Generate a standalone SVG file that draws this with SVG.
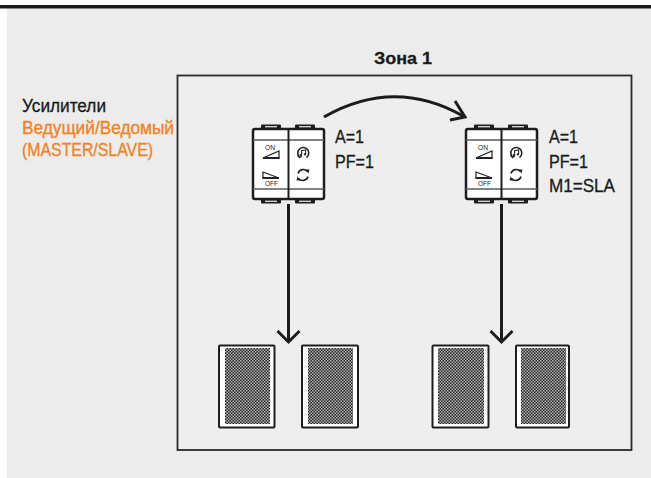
<svg xmlns="http://www.w3.org/2000/svg" width="651" height="478" viewBox="0 0 651 478">
  <style>
    .lbl { font-family: "Liberation Sans", Arial, sans-serif; fill: #1a1a1a; stroke: #1a1a1a; stroke-width: 0.3; }
    .big { font-size: 18px; }
    .param { font-size: 19px; }
    .accent { fill: #f0821e; stroke: #f0821e; }
    .tiny { font-family: "Liberation Sans", Arial, sans-serif; font-size: 6.5px; fill: #222; }
    .conn { fill: none; stroke: #1c1c1c; stroke-width: 3; stroke-linecap: butt; stroke-linejoin: miter; }
    .spk-body { fill: #ffffff; stroke: #1e1e1e; stroke-width: 2; }
    .grill { fill: url(#grillPat); }
  </style>
  <defs>
    <!-- fine mesh of the speaker grille -->
    <pattern id="grillPat" patternUnits="userSpaceOnUse" width="3" height="3">
      <rect width="3" height="3" fill="#262626"/>
      <rect x="0" y="0" width="1.5" height="1.5" fill="#b4b4b4"/>
      <rect x="1.5" y="1.5" width="1.5" height="1.5" fill="#b4b4b4"/>
    </pattern>

    <!-- two-module amplifier control, origin at top-left of the body -->
    <g id="amp">
      <!-- fixing tabs -->
      <rect x="8" y="-4.5" width="20" height="5.5" rx="1" fill="#1e1e1e"/>
      <rect x="42" y="-4.5" width="20" height="5.5" rx="1" fill="#1e1e1e"/>
      <rect x="8" y="69" width="20" height="5.5" rx="1" fill="#1e1e1e"/>
      <rect x="42" y="69" width="20" height="5.5" rx="1" fill="#1e1e1e"/>
      <rect x="12" y="-2.8" width="12" height="1.2" fill="#ffffff"/>
      <rect x="46" y="-2.8" width="12" height="1.2" fill="#ffffff"/>
      <rect x="12" y="71.6" width="12" height="1.2" fill="#ffffff"/>
      <rect x="46" y="71.6" width="12" height="1.2" fill="#ffffff"/>
      <!-- body -->
      <rect x="0" y="0" width="71" height="70" rx="2" fill="#ffffff" stroke="#1e1e1e" stroke-width="2.5"/>
      <line x1="0" y1="11" x2="71" y2="11" stroke="#5a5a5a" stroke-width="1.5"/>
      <line x1="0" y1="60" x2="71" y2="60" stroke="#5a5a5a" stroke-width="1.5"/>
      <line x1="35.5" y1="0" x2="35.5" y2="70" stroke="#1e1e1e" stroke-width="2"/>
      <!-- volume up -->
      <text class="tiny" x="12" y="21" textLength="10" lengthAdjust="spacingAndGlyphs">ON</text>
      <polygon points="10,29 26,22 26,29" fill="none" stroke="#222" stroke-width="1.2"/>
      <line x1="10" y1="29" x2="26.5" y2="29" stroke="#222" stroke-width="2"/>
      <!-- volume down / off -->
      <polygon points="10,43 26,49 10,49" fill="none" stroke="#222" stroke-width="1.2"/>
      <line x1="9.5" y1="49" x2="26" y2="49" stroke="#222" stroke-width="2"/>
      <text class="tiny" x="12" y="57" textLength="13" lengthAdjust="spacingAndGlyphs">OFF</text>
      <!-- source select -->
      <path d="M 46.5 28 A 5.5 5.5 0 1 1 53.5 28.5" fill="none" stroke="#222" stroke-width="1.6"/>
      <path d="M 44.5 26 L 46.5 28.6 L 49 26.8" fill="none" stroke="#222" stroke-width="1.2"/>
      <path d="M 48.6 26.2 L 48.6 21.6 L 52.6 20.8 L 52.6 25.4" fill="none" stroke="#222" stroke-width="1.1"/>
      <circle cx="47.8" cy="26.2" r="1.1" fill="#222"/>
      <circle cx="51.8" cy="25.4" r="1.1" fill="#222"/>
      <!-- repeat / cycle -->
      <path d="M 45 44.5 A 5.5 5.5 0 0 1 54.5 42.5" fill="none" stroke="#222" stroke-width="1.6"/>
      <path d="M 55 47.5 A 5.5 5.5 0 0 1 45.5 49.5" fill="none" stroke="#222" stroke-width="1.6"/>
      <polygon points="52.5,40.5 56.5,40.5 55.5,44.5" fill="#222"/>
      <polygon points="47.5,51.5 43.5,51.5 44.5,47.5" fill="#222"/>
    </g>
  </defs>

  <!-- page background -->
  <rect x="0" y="0" width="651" height="478" fill="#ffffff"/>
  <rect x="7" y="8.5" width="644" height="470" fill="#ebeceb"/>
  <rect x="0" y="5" width="651" height="3.5" fill="#1a1a1a"/>

  <!-- zone frame -->
  <g id="zone1">
    <rect x="177.5" y="75.5" width="454" height="374.5" fill="#edeeed" stroke="#2a2a2a" stroke-width="1.8"/>
    <text class="lbl" x="374" y="64" font-size="17" font-weight="bold" textLength="58" lengthAdjust="spacingAndGlyphs">Зона 1</text>
  </g>

  <!-- legend -->
  <g id="legend">
    <text class="lbl big" x="22" y="112" textLength="84" lengthAdjust="spacingAndGlyphs">Усилители</text>
    <text class="lbl big accent" x="22" y="134" textLength="152" lengthAdjust="spacingAndGlyphs">Ведущий/Ведомый</text>
    <text class="lbl big accent" x="22" y="156" textLength="131" lengthAdjust="spacingAndGlyphs">(MASTER/SLAVE)</text>
  </g>

  <!-- connectors -->
  <g id="connectors">
    <path class="conn" d="M 324 117 Q 394 77 463 116"/>
    <polyline class="conn" points="455,101 465,117 450,120"/>
    <line class="conn" x1="288.5" y1="204" x2="288.5" y2="341"/>
    <polyline class="conn" points="277.5,331 288.5,342 299.5,331"/>
    <line class="conn" x1="501.5" y1="204" x2="501.5" y2="341"/>
    <polyline class="conn" points="490.5,331 501.5,342 512.5,331"/>
  </g>

  <!-- master amplifier -->
  <g id="amp-master">
    <use href="#amp" x="253" y="129"/>
    <text class="lbl param" x="335" y="143" textLength="29" lengthAdjust="spacingAndGlyphs">A=1</text>
    <text class="lbl param" x="335" y="168" textLength="39" lengthAdjust="spacingAndGlyphs">PF=1</text>
  </g>

  <!-- slave amplifier -->
  <g id="amp-slave">
    <use href="#amp" x="466" y="129"/>
    <text class="lbl param" x="549" y="143" textLength="29" lengthAdjust="spacingAndGlyphs">A=1</text>
    <text class="lbl param" x="549" y="168" textLength="39" lengthAdjust="spacingAndGlyphs">PF=1</text>
    <text class="lbl param" x="549" y="192" textLength="66" lengthAdjust="spacingAndGlyphs">M1=SLA</text>
  </g>

  <!-- speakers -->
  <g id="speaker-1">
    <rect class="spk-body" x="219" y="345.5" width="55.5" height="82" rx="1"/>
    <rect class="grill" x="225" y="348" width="45" height="76"/>
  </g>
  <g id="speaker-2">
    <rect class="spk-body" x="302" y="345.5" width="56" height="82" rx="1"/>
    <rect class="grill" x="308" y="348" width="45" height="76"/>
  </g>
  <g id="speaker-3">
    <rect class="spk-body" x="432.5" y="345.5" width="56" height="82" rx="1"/>
    <rect class="grill" x="438" y="348" width="46" height="76"/>
  </g>
  <g id="speaker-4">
    <rect class="spk-body" x="516" y="345.5" width="53" height="82" rx="1"/>
    <rect class="grill" x="521" y="348" width="45" height="76"/>
  </g>
</svg>
